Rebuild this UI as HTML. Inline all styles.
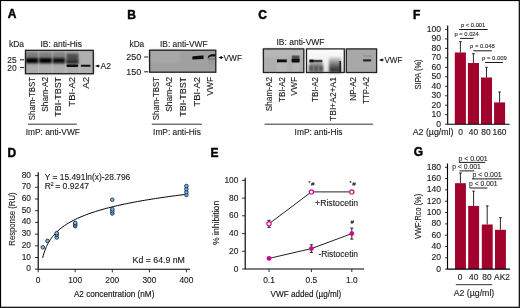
<!DOCTYPE html>
<html><head><meta charset="utf-8"><style>
html,body{margin:0;padding:0;background:#fff;}
body{width:520px;height:308px;overflow:hidden;}
svg{display:block;will-change:transform;font-family:"Liberation Sans",sans-serif;}
text{fill:#1a1a1a;stroke:#1a1a1a;stroke-width:0.12px;}
text.s{stroke-width:0.08px;}
text.L{font-weight:bold;fill:#000;stroke:#000;stroke-width:0.45px;}
</style></head><body>
<svg width="520" height="308" viewBox="0 0 520 308">
<defs>
<filter id="b1" x="-30%" y="-80%" width="160%" height="260%"><feGaussianBlur stdDeviation="0.9"/></filter>
<filter id="b2" x="-30%" y="-80%" width="160%" height="260%"><feGaussianBlur stdDeviation="1.5"/></filter>
<filter id="b07" x="-30%" y="-80%" width="160%" height="260%"><feGaussianBlur stdDeviation="0.7"/></filter>
<linearGradient id="gC2" x1="0" y1="0" x2="0" y2="1"><stop offset="0" stop-color="#fbfbfb"/><stop offset="0.5" stop-color="#f2f2f2"/><stop offset="1" stop-color="#dcdcdc"/></linearGradient>
<linearGradient id="gC2b" x1="0" y1="0" x2="0" y2="1"><stop offset="0" stop-color="#e0e0e0"/><stop offset="0.3" stop-color="#9a9a9a"/><stop offset="0.6" stop-color="#5a5a5a"/><stop offset="1" stop-color="#2a2a2a"/></linearGradient>
<filter id="b05" x="-30%" y="-80%" width="160%" height="260%"><feGaussianBlur stdDeviation="0.5"/></filter>
</defs>
<rect x="0" y="0" width="520" height="308" fill="#fff"/>
<text x="7.8" y="18.3" font-size="12" class="L">A</text>
<text x="8.9" y="47.3" font-size="8.4" textLength="15.1" lengthAdjust="spacingAndGlyphs">kDa</text>
<text x="40.5" y="47.3" font-size="8.4" textLength="41.5" lengthAdjust="spacingAndGlyphs">IB: anti-His</text>
<text x="7.3" y="62.6" font-size="8.4" textLength="9.4" lengthAdjust="spacingAndGlyphs">25</text>
<text x="7.3" y="70.6" font-size="8.4" textLength="9.4" lengthAdjust="spacingAndGlyphs">20</text>
<path d="M20 59.8H24M20 67.6H24" stroke="#1a1a1a" stroke-width="1" fill="none" />
<g>
<rect x="25.5" y="50.3" width="67.8" height="23.4" fill="#a2a2a2"/>
<rect x="25.5" y="64.5" width="67.8" height="9.2" fill="#acacac" filter="url(#b2)"/>
<rect x="79.5" y="52" width="13.8" height="21" fill="#b0b0b0" filter="url(#b2)"/>
<rect x="37.9" y="50.8" width="1.4" height="22.8" fill="#b8b8b8" filter="url(#b05)"/>
<rect x="51.5" y="50.8" width="1.4" height="22.8" fill="#b8b8b8" filter="url(#b05)"/>
<rect x="64.89999999999999" y="50.8" width="1.4" height="22.8" fill="#b8b8b8" filter="url(#b05)"/>
<rect x="78.89999999999999" y="50.8" width="1.4" height="22.8" fill="#b8b8b8" filter="url(#b05)"/>
<rect x="26" y="52.6" width="12.200000000000003" height="6" fill="#7a7a7a" filter="url(#b1)"/>
<rect x="26" y="58" width="12.200000000000003" height="5.2" fill="#000" filter="url(#b1)"/>
<rect x="39.2" y="52.6" width="12.5" height="6" fill="#7e7e7e" filter="url(#b1)"/>
<rect x="39.2" y="58" width="12.5" height="5.2" fill="#060606" filter="url(#b1)"/>
<rect x="52.8" y="52.6" width="12.200000000000003" height="6" fill="#808080" filter="url(#b1)"/>
<rect x="52.8" y="58" width="12.200000000000003" height="5.2" fill="#0a0a0a" filter="url(#b1)"/>
<rect x="66.4" y="53.6" width="12" height="10" fill="#4e4e4e" filter="url(#b1)"/>
<rect x="66.6" y="60.4" width="11.6" height="2.8" fill="#262626" filter="url(#b1)"/>
<rect x="66.6" y="64.4" width="11.6" height="2.7" fill="#080808" rx="0.8" filter="url(#b07)"/>
<rect x="80.8" y="64.7" width="9.8" height="2.1" fill="#0e0e0e" rx="0.8" filter="url(#b07)"/>
<rect x="25.5" y="50.3" width="67.8" height="23.4" fill="none" stroke="#1e1e1e" stroke-width="1.3"/>
</g>
<path d="M95.1 66L98.7 64.5L98.7 67.5Z" fill="#000"/>
<path d="M98.3 66H99.89999999999999" stroke="#111" stroke-width="0.9" fill="none" />
<text x="100.6" y="68.9" font-size="8.4" textLength="10.5" lengthAdjust="spacingAndGlyphs">A2</text>
<text transform="translate(35.3,120.2) rotate(-90)" font-size="8.4" textLength="43.3" lengthAdjust="spacingAndGlyphs">Sham-TBST</text>
<text transform="translate(48.3,111.7) rotate(-90)" font-size="8.4" textLength="34.8" lengthAdjust="spacingAndGlyphs">Sham-A2</text>
<text transform="translate(61,116.7) rotate(-90)" font-size="8.4" textLength="39.8" lengthAdjust="spacingAndGlyphs">TBI-TBST</text>
<text transform="translate(74.6,106.7) rotate(-90)" font-size="8.4" textLength="29.8" lengthAdjust="spacingAndGlyphs">TBI-A2</text>
<text transform="translate(88.7,88.7) rotate(-90)" font-size="8.4" textLength="11.8" lengthAdjust="spacingAndGlyphs">A2</text>
<path d="M28 124.2H76.8" stroke="#1a1a1a" stroke-width="0.9" fill="none" />
<text x="25.7" y="135.1" font-size="8.8" textLength="54.2" lengthAdjust="spacingAndGlyphs">ImP: anti-VWF</text>
<text x="127.3" y="18.5" font-size="12" class="L">B</text>
<text x="129.5" y="46.8" font-size="8.4" textLength="14.7" lengthAdjust="spacingAndGlyphs">kDa</text>
<text x="160" y="46.8" font-size="8.4" textLength="47.5" lengthAdjust="spacingAndGlyphs">IB: anti-VWF</text>
<text x="126.2" y="60" font-size="8.4" textLength="15" lengthAdjust="spacingAndGlyphs">250</text>
<text x="126.2" y="74.8" font-size="8.4" textLength="15" lengthAdjust="spacingAndGlyphs">150</text>
<path d="M144.2 57H148.2M144.2 71.8H148.2" stroke="#1a1a1a" stroke-width="1" fill="none" />
<rect x="149.6" y="50.2" width="66.2" height="22" fill="#a0a0a0"/>
<rect x="149.6" y="50.2" width="30" height="12" fill="#a8a8a8" filter="url(#b2)"/>
<path d="M192.4 56.4Q193 56 203.5 55.6V58.9L192.4 59.6Z" fill="#0a0a0a" filter="url(#b07)"/>
<path d="M207.5 57.2Q208.5 54.6 211.5 54.2H215.6V56.6H212Q209.5 56.6 208.6 58Z" fill="#111" filter="url(#b07)"/>
<rect x="207.8" y="58" width="7.2" height="2" fill="#7a7a7a" filter="url(#b07)"/>
<rect x="208" y="59.5" width="6.5" height="5" fill="#989898" filter="url(#b1)"/>
<rect x="149.6" y="50.2" width="66.2" height="22" fill="none" stroke="#1e1e1e" stroke-width="1.3"/>
<path d="M218.4 57.5L222.0 56.0L222.0 59.0Z" fill="#000"/>
<path d="M221.6 57.5H223.2" stroke="#111" stroke-width="0.9" fill="none" />
<text x="223.6" y="60.6" font-size="8.4" textLength="18.4" lengthAdjust="spacingAndGlyphs">VWF</text>
<text transform="translate(158.7,120.2) rotate(-90)" font-size="8.4" textLength="43.3" lengthAdjust="spacingAndGlyphs">Sham-TBST</text>
<text transform="translate(172.3,111.7) rotate(-90)" font-size="8.4" textLength="34.8" lengthAdjust="spacingAndGlyphs">Sham-A2</text>
<text transform="translate(186,116.7) rotate(-90)" font-size="8.4" textLength="39.8" lengthAdjust="spacingAndGlyphs">TBI-TBST</text>
<text transform="translate(199.6,106.7) rotate(-90)" font-size="8.4" textLength="29.8" lengthAdjust="spacingAndGlyphs">TBI-A2</text>
<text transform="translate(212.8,95.7) rotate(-90)" font-size="8.4" textLength="18.8" lengthAdjust="spacingAndGlyphs">VWF</text>
<path d="M151.8 124.2H201.8" stroke="#1a1a1a" stroke-width="0.9" fill="none" />
<text x="153.1" y="135.1" font-size="8.8" textLength="47.8" lengthAdjust="spacingAndGlyphs">ImP: anti-His</text>
<text x="258.2" y="18.6" font-size="12" class="L">C</text>
<text x="276.5" y="44.8" font-size="8.4" textLength="48" lengthAdjust="spacingAndGlyphs">IB: anti-VWF</text>
<rect x="263.4" y="48.9" width="40.4" height="23.6" fill="#aeaeae"/>
<rect x="263.4" y="48.9" width="40.4" height="8" fill="#b8b8b8" filter="url(#b2)"/>
<rect x="276.5" y="62.5" width="11" height="10" fill="#b8b8b8" filter="url(#b1)"/>
<rect x="292" y="62.5" width="8" height="10" fill="#b6b6b6" filter="url(#b1)"/>
<rect x="291.8" y="55.4" width="7.8" height="4.4" fill="#5a5a5a" filter="url(#b07)"/>
<rect x="292.2" y="56.8" width="7" height="1" fill="#444" filter="url(#b05)"/>
<path d="M277 59.3Q277 59.2 279 59.4H286.8V62.2H279Q277 62.5 277 62.3Z" fill="#0a0a0a" filter="url(#b07)"/>
<rect x="291.6" y="58.8" width="8" height="3.6" fill="#080808" rx="1" filter="url(#b05)"/>
<rect x="263.4" y="48.9" width="40.4" height="23.6" fill="none" stroke="#222" stroke-width="1.3"/>
<rect x="306.5" y="48.9" width="37.8" height="23.6" fill="url(#gC2)"/>
<rect x="309.3" y="61.5" width="13.4" height="10.5" fill="#9a9a9a" filter="url(#b1)"/>
<rect x="309.3" y="65" width="13.4" height="7" fill="#7a7a7a" filter="url(#b1)"/>
<rect x="309.8" y="66" width="2.6" height="5.5" fill="#505050" filter="url(#b1)"/>
<rect x="314.8" y="66" width="2.6" height="5.5" fill="#505050" filter="url(#b1)"/>
<rect x="319.8" y="66" width="2.6" height="5.5" fill="#505050" filter="url(#b1)"/>
<rect x="309.5" y="59.8" width="12.8" height="2.4" fill="#3c3c3c" filter="url(#b05)"/>
<rect x="309.5" y="59.6" width="4" height="2.6" fill="#111" filter="url(#b05)"/>
<rect x="329" y="57" width="12" height="15.5" fill="url(#gC2b)" filter="url(#b1)"/>
<rect x="339.4" y="61" width="1.6" height="11" fill="#222" filter="url(#b05)"/>
<rect x="306.5" y="48.9" width="37.8" height="23.6" fill="none" stroke="#222" stroke-width="1.3"/>
<rect x="346.3" y="48.9" width="30.3" height="23.6" fill="#a8a8a8"/>
<rect x="362.9" y="59.2" width="8.4" height="2.3" fill="#2a2a2a" rx="1" filter="url(#b05)"/>
<rect x="362.9" y="55.5" width="8.4" height="1" fill="#8a8a8a" filter="url(#b05)"/>
<rect x="346.3" y="48.9" width="30.3" height="23.6" fill="none" stroke="#222" stroke-width="1.3"/>
<path d="M379.0 59.9L382.59999999999997 58.4L382.59999999999997 61.4Z" fill="#000"/>
<path d="M382.2 59.9H383.8" stroke="#111" stroke-width="0.9" fill="none" />
<text x="384.4" y="63" font-size="8.4" textLength="18" lengthAdjust="spacingAndGlyphs">VWF</text>
<text transform="translate(271.6,111.2) rotate(-90)" font-size="8.4" textLength="34.2" lengthAdjust="spacingAndGlyphs">Sham-A2</text>
<text transform="translate(285.4,102.0) rotate(-90)" font-size="8.4" textLength="25.0" lengthAdjust="spacingAndGlyphs">TBI-A2</text>
<text transform="translate(297.4,95.7) rotate(-90)" font-size="8.4" textLength="18.8" lengthAdjust="spacingAndGlyphs">VWF</text>
<text transform="translate(318.2,102.0) rotate(-90)" font-size="8.4" textLength="25.0" lengthAdjust="spacingAndGlyphs">TBI-A2</text>
<text transform="translate(336.2,120.9) rotate(-90)" font-size="8.4" textLength="43.9" lengthAdjust="spacingAndGlyphs">TBI+A2+A1</text>
<text transform="translate(356.3,100.7) rotate(-90)" font-size="8.4" textLength="23.8" lengthAdjust="spacingAndGlyphs">NP-A2</text>
<text transform="translate(369.4,103.7) rotate(-90)" font-size="8.4" textLength="26.8" lengthAdjust="spacingAndGlyphs">TTP-A2</text>
<path d="M264.6 124.2H373" stroke="#1a1a1a" stroke-width="0.9" fill="none" />
<text x="294.6" y="135.2" font-size="8.8" textLength="47.9" lengthAdjust="spacingAndGlyphs">ImP: anti-His</text>
<text x="7.6" y="156.5" font-size="12" class="L">D</text>
<path d="M38.2 172.2V269.2H190" stroke="#000" stroke-width="1.15" fill="none" />
<text x="31" y="271.2" font-size="8.4" text-anchor="end">0</text>
<text x="31" y="259.5" font-size="8.4" text-anchor="end">10</text>
<text x="31" y="247.8" font-size="8.4" text-anchor="end">20</text>
<text x="31" y="236.1" font-size="8.4" text-anchor="end">30</text>
<text x="31" y="224.4" font-size="8.4" text-anchor="end">40</text>
<text x="31" y="212.7" font-size="8.4" text-anchor="end">50</text>
<text x="31" y="201.0" font-size="8.4" text-anchor="end">60</text>
<text x="31" y="189.3" font-size="8.4" text-anchor="end">70</text>
<text x="31" y="177.6" font-size="8.4" text-anchor="end">80</text>
<text x="38.2" y="282.9" font-size="8.4" text-anchor="middle">0</text>
<text x="75.2" y="282.9" font-size="8.4" text-anchor="middle">100</text>
<text x="112.3" y="282.9" font-size="8.4" text-anchor="middle">200</text>
<text x="149.4" y="282.9" font-size="8.4" text-anchor="middle">300</text>
<text x="186.4" y="282.9" font-size="8.4" text-anchor="middle">400</text>
<path d="M35 269.2H38.2M35 257.5H38.2M35 245.8H38.2M35 234.1H38.2M35 222.4H38.2M35 210.7H38.2M35 199.0H38.2M35 187.3H38.2M35 175.6H38.2M38.2 269.2V272.3M75.2 269.2V272.3M112.3 269.2V272.3M149.4 269.2V272.3M186.4 269.2V272.3" stroke="#1a1a1a" stroke-width="0.9" fill="none" />
<polyline points="42.65,257.85 43.20,255.72 43.76,253.81 44.31,252.08 44.87,250.50 45.42,249.05 45.98,247.71 46.54,246.46 47.09,245.29 47.65,244.19 48.20,243.16 48.76,242.18 49.32,241.25 49.87,240.36 50.43,239.52 50.98,238.71 51.54,237.94 52.09,237.20 52.65,236.49 53.21,235.81 55.43,233.30 57.65,231.10 59.87,229.14 62.10,227.37 64.32,225.76 66.54,224.28 68.77,222.91 70.99,221.64 73.21,220.45 75.44,219.33 77.66,218.28 79.88,217.29 82.10,216.35 84.33,215.45 86.55,214.60 88.77,213.79 91.00,213.01 93.22,212.26 95.44,211.54 97.67,210.85 99.89,210.18 102.11,209.54 104.33,208.92 106.56,208.32 108.78,207.74 111.00,207.18 113.23,206.64 115.45,206.11 117.67,205.59 119.90,205.09 122.12,204.61 124.34,204.13 126.56,203.67 128.79,203.22 131.01,202.78 133.23,202.35 135.46,201.93 137.68,201.52 139.90,201.12 142.13,200.73 144.35,200.35 146.57,199.97 148.79,199.60 151.02,199.24 153.24,198.89 155.46,198.54 157.69,198.20 159.91,197.87 162.13,197.54 164.36,197.22 166.58,196.90 168.80,196.59 171.02,196.28 173.25,195.98 175.47,195.69 177.69,195.40 179.92,195.11 182.14,194.83 184.36,194.55 186.40,194.30" fill="none" stroke="#000" stroke-width="1"/>
<circle cx="42.8" cy="247.3" r="1.8" fill="#74bcf8" stroke="#0c1626" stroke-width="0.8"/>
<circle cx="47.5" cy="240.9" r="1.8" fill="#74bcf8" stroke="#0c1626" stroke-width="0.8"/>
<circle cx="56.7" cy="237.5" r="1.8" fill="#74bcf8" stroke="#0c1626" stroke-width="0.8"/>
<circle cx="56.7" cy="234.8" r="1.8" fill="#74bcf8" stroke="#0c1626" stroke-width="0.8"/>
<circle cx="56.7" cy="233.2" r="1.8" fill="#74bcf8" stroke="#0c1626" stroke-width="0.8"/>
<circle cx="75.2" cy="226.1" r="1.8" fill="#74bcf8" stroke="#0c1626" stroke-width="0.8"/>
<circle cx="75.2" cy="224.5" r="1.8" fill="#74bcf8" stroke="#0c1626" stroke-width="0.8"/>
<circle cx="75.2" cy="222.9" r="1.8" fill="#74bcf8" stroke="#0c1626" stroke-width="0.8"/>
<circle cx="112.3" cy="213.5" r="1.8" fill="#74bcf8" stroke="#0c1626" stroke-width="0.8"/>
<circle cx="112.3" cy="211.3" r="1.8" fill="#74bcf8" stroke="#0c1626" stroke-width="0.8"/>
<circle cx="112.3" cy="209.2" r="1.8" fill="#74bcf8" stroke="#0c1626" stroke-width="0.8"/>
<circle cx="112.3" cy="199.8" r="1.8" fill="#74bcf8" stroke="#0c1626" stroke-width="0.8"/>
<circle cx="186.4" cy="194.9" r="1.8" fill="#74bcf8" stroke="#0c1626" stroke-width="0.8"/>
<circle cx="186.4" cy="192.1" r="1.8" fill="#74bcf8" stroke="#0c1626" stroke-width="0.8"/>
<circle cx="186.4" cy="189.1" r="1.8" fill="#74bcf8" stroke="#0c1626" stroke-width="0.8"/>
<circle cx="186.4" cy="186.0" r="1.8" fill="#74bcf8" stroke="#0c1626" stroke-width="0.8"/>
<text x="44.7" y="180" font-size="8.4" textLength="85.6" lengthAdjust="spacingAndGlyphs">Y = 15.491ln(x)-28.796</text>
<text x="44.7" y="189.2" font-size="8.4">R</text>
<text x="50.5" y="186.2" font-size="5.8">2</text>
<text x="55.2" y="189.2" font-size="8.4" textLength="33.8" lengthAdjust="spacingAndGlyphs">= 0.9247</text>
<text x="132.6" y="263.1" font-size="8.4" textLength="52.3" lengthAdjust="spacingAndGlyphs">Kd = 64.9 nM</text>
<text x="73.9" y="297.4" font-size="9.8" textLength="80.5" lengthAdjust="spacingAndGlyphs" style="stroke-width:0.2px">A2 concentration (nM)</text>
<text transform="translate(15,245.7) rotate(-90)" font-size="9.2" textLength="53.3" lengthAdjust="spacingAndGlyphs">Response (RU)</text>
<text x="210.4" y="156.9" font-size="12" class="L">E</text>
<path d="M245.2 177.8V269H364.2" stroke="#000" stroke-width="1.15" fill="none" />
<text x="238.4" y="271.5" font-size="8.4" text-anchor="end">0</text>
<text x="238.4" y="253.8" font-size="8.4" text-anchor="end">20</text>
<text x="238.4" y="236.1" font-size="8.4" text-anchor="end">40</text>
<text x="238.4" y="218.3" font-size="8.4" text-anchor="end">60</text>
<text x="238.4" y="200.6" font-size="8.4" text-anchor="end">80</text>
<text x="238.4" y="182.9" font-size="8.4" text-anchor="end">100</text>
<text x="269" y="282.9" font-size="8.4" text-anchor="middle">0.1</text>
<text x="311.4" y="282.9" font-size="8.4" text-anchor="middle">0.5</text>
<text x="351.8" y="282.9" font-size="8.4" text-anchor="middle">1.0</text>
<path d="M242 269.0H245.2M242 251.3H245.2M242 233.6H245.2M242 215.8H245.2M242 198.1H245.2M242 180.4H245.2M269.0 269V272M311.4 269V272M351.8 269V272" stroke="#1a1a1a" stroke-width="0.9" fill="none" />
<polyline points="269.0,223.8 311.4,191.9 351.8,191.9" fill="none" stroke="#222" stroke-width="1"/>
<path d="M269 220.3V227.4M267.4 220.3H270.6M267.4 227.4H270.6" stroke="#111" stroke-width="0.9" fill="none" />
<circle cx="269" cy="223.8" r="2.1" fill="#fff" stroke="#c80c8a" stroke-width="1.2"/>
<circle cx="311.4" cy="191.9" r="2.1" fill="#fff" stroke="#c80c8a" stroke-width="1.2"/>
<circle cx="351.8" cy="191.9" r="2.1" fill="#fff" stroke="#c80c8a" stroke-width="1.2"/>
<polyline points="269.0,258.4 311.4,248.6 351.8,233.6" fill="none" stroke="#222" stroke-width="1"/>
<path d="M311.4 244.8V252.4M309.79999999999995 244.8H313.0M309.79999999999995 252.4H313.0" stroke="#111" stroke-width="0.9" fill="none" />
<path d="M351.8 228.1V239.1M350.2 228.1H353.40000000000003M350.2 239.1H353.40000000000003" stroke="#111" stroke-width="0.9" fill="none" />
<circle cx="269" cy="258.4" r="2.4" fill="#c80c8a"/>
<circle cx="311.4" cy="248.6" r="2.4" fill="#c80c8a"/>
<circle cx="351.8" cy="233.6" r="2.4" fill="#c80c8a"/>
<text x="308.4" y="185.2" font-size="5.2">*</text>
<text x="311.0" y="186.2" font-size="6.2" font-style="italic">#</text>
<text x="349.6" y="185.2" font-size="5.2">*</text>
<text x="352.20000000000005" y="186.2" font-size="6.2" font-style="italic">#</text>
<text x="350.6" y="223.6" font-size="6.2" font-style="italic">#</text>
<text x="315.1" y="205.9" font-size="8.7" textLength="43.1" lengthAdjust="spacingAndGlyphs">+Ristocetin</text>
<text x="318.4" y="256.6" font-size="8.7" textLength="39.6" lengthAdjust="spacingAndGlyphs">-Ristocetin</text>
<text x="270.6" y="297.1" font-size="9.8" textLength="70.6" lengthAdjust="spacingAndGlyphs" style="stroke-width:0.2px">VWF added (µg/ml)</text>
<text transform="translate(218.6,245) rotate(-90)" font-size="9.6" textLength="44.2" lengthAdjust="spacingAndGlyphs">% inhibition</text>
<text x="412.9" y="18.7" font-size="12" class="L">F</text>
<rect x="454.8" y="52.5" width="11.1" height="71.7" fill="#a2032c"/>
<rect x="467.9" y="63.0" width="11.1" height="61.2" fill="#a2032c"/>
<rect x="481" y="77.5" width="11" height="46.7" fill="#a2032c"/>
<rect x="494.1" y="102.4" width="11.0" height="21.8" fill="#a2032c"/>
<path d="M460.4 52.5V41.7M459.1 41.7H461.7" stroke="#111" stroke-width="0.9" fill="none" />
<path d="M473.4 63.0V53.7M472.1 53.7H474.8" stroke="#111" stroke-width="0.9" fill="none" />
<path d="M486.5 77.5V67.3M485.2 67.3H487.8" stroke="#111" stroke-width="0.9" fill="none" />
<path d="M499.6 102.4V92.0M498.3 92.0H500.9" stroke="#111" stroke-width="0.9" fill="none" />
<path d="M447.7 25.6V124.2H509.6" stroke="#000" stroke-width="1.15" fill="none" />
<text x="441" y="126.7" font-size="8.6" text-anchor="end">0</text>
<text x="441" y="117.2" font-size="8.6" text-anchor="end">10</text>
<text x="441" y="107.7" font-size="8.6" text-anchor="end">20</text>
<text x="441" y="98.3" font-size="8.6" text-anchor="end">30</text>
<text x="441" y="88.8" font-size="8.6" text-anchor="end">40</text>
<text x="441" y="79.3" font-size="8.6" text-anchor="end">50</text>
<text x="441" y="69.8" font-size="8.6" text-anchor="end">60</text>
<text x="441" y="60.3" font-size="8.6" text-anchor="end">70</text>
<text x="441" y="50.9" font-size="8.6" text-anchor="end">80</text>
<text x="441" y="41.4" font-size="8.6" text-anchor="end">90</text>
<text x="441" y="31.9" font-size="8.6" text-anchor="end">100</text>
<path d="M445 124.2H447.7M445 114.7H447.7M445 105.2H447.7M445 95.8H447.7M445 86.3H447.7M445 76.8H447.7M445 67.3H447.7M445 57.8H447.7M445 48.4H447.7M445 38.9H447.7M445 29.4H447.7" stroke="#1a1a1a" stroke-width="0.9" fill="none" />
<text transform="translate(421.3,89.4) rotate(-90)" font-size="9.4" textLength="30" lengthAdjust="spacingAndGlyphs">SIPA (%)</text>
<text x="412.7" y="134.8" font-size="8.4" textLength="40.8" lengthAdjust="spacingAndGlyphs">A2 (µg/ml)</text>
<text x="460.5" y="134.8" font-size="8.4" text-anchor="middle">0</text>
<text x="473.4" y="134.8" font-size="8.4" text-anchor="middle">40</text>
<text x="485.9" y="134.8" font-size="8.4" text-anchor="middle">80</text>
<text x="499.5" y="134.8" font-size="8.4" text-anchor="middle">160</text>
<text x="461" y="27.2" font-size="6.2" textLength="24.3" lengthAdjust="spacingAndGlyphs" class="s">p &lt; 0.001</text>
<path d="M459.1 29.5H487.7" stroke="#1a1a1a" stroke-width="1" fill="none" />
<text x="454.5" y="36.3" font-size="6.2" textLength="24.3" lengthAdjust="spacingAndGlyphs" class="s">p = 0.024</text>
<path d="M460.1 38.4H473.6" stroke="#1a1a1a" stroke-width="1" fill="none" />
<text x="470.1" y="48.4" font-size="6.2" textLength="24.7" lengthAdjust="spacingAndGlyphs" class="s">p = 0.048</text>
<path d="M473.4 50.8H491.8" stroke="#1a1a1a" stroke-width="1" fill="none" />
<text x="482.1" y="60.2" font-size="6.2" textLength="24.7" lengthAdjust="spacingAndGlyphs" class="s">p = 0.009</text>
<path d="M485.1 62.5H502.9" stroke="#1a1a1a" stroke-width="1" fill="none" />
<text x="413.8" y="156.3" font-size="12" class="L">G</text>
<rect x="455" y="183.2" width="10.9" height="85.9" fill="#a2032c"/>
<rect x="468.2" y="205.9" width="10.9" height="63.2" fill="#a2032c"/>
<rect x="481.8" y="224.5" width="10.9" height="44.6" fill="#a2032c"/>
<rect x="495" y="229.8" width="10.9" height="39.3" fill="#a2032c"/>
<path d="M460.4 183.2V173.0M459.1 173.0H461.8" stroke="#111" stroke-width="0.9" fill="none" />
<path d="M473.6 205.9V191.1M472.3 191.1H474.9" stroke="#111" stroke-width="0.9" fill="none" />
<path d="M487.2 224.5V205.9M485.9 205.9H488.6" stroke="#111" stroke-width="0.9" fill="none" />
<path d="M500.4 229.8V217.7M499.1 217.7H501.8" stroke="#111" stroke-width="0.9" fill="none" />
<path d="M447.5 163.6V269.1H510" stroke="#000" stroke-width="1.15" fill="none" />
<text x="441" y="271.5" font-size="8.6" text-anchor="end">0</text>
<text x="441" y="260.2" font-size="8.6" text-anchor="end">20</text>
<text x="441" y="248.9" font-size="8.6" text-anchor="end">40</text>
<text x="441" y="237.6" font-size="8.6" text-anchor="end">60</text>
<text x="441" y="226.3" font-size="8.6" text-anchor="end">80</text>
<text x="441" y="214.9" font-size="8.6" text-anchor="end">100</text>
<text x="441" y="203.6" font-size="8.6" text-anchor="end">120</text>
<text x="441" y="192.3" font-size="8.6" text-anchor="end">140</text>
<text x="441" y="181.0" font-size="8.6" text-anchor="end">160</text>
<text x="441" y="169.7" font-size="8.6" text-anchor="end">180</text>
<path d="M445 269.1H447.5M445 257.8H447.5M445 246.5H447.5M445 235.2H447.5M445 223.9H447.5M445 212.5H447.5M445 201.2H447.5M445 189.9H447.5M445 178.6H447.5M445 167.3H447.5" stroke="#1a1a1a" stroke-width="0.9" fill="none" />
<text transform="translate(421.3,239) rotate(-90)" font-size="9.4" textLength="45.1" lengthAdjust="spacingAndGlyphs">VWF:Rco (%)</text>
<text x="460" y="279.6" font-size="8.4" text-anchor="middle">0</text>
<text x="473.7" y="279.6" font-size="8.4" text-anchor="middle">40</text>
<text x="487" y="279.6" font-size="8.4" text-anchor="middle">80</text>
<text x="502" y="279.6" font-size="8.4" text-anchor="middle">AK2</text>
<path d="M455.8 284.7H492.2" stroke="#1a1a1a" stroke-width="0.9" fill="none" />
<text x="453.7" y="295.8" font-size="8.4" textLength="40.6" lengthAdjust="spacingAndGlyphs">A2 (µg/ml)</text>
<text x="458.4" y="161.0" font-size="6.8" textLength="29.3" lengthAdjust="spacingAndGlyphs" class="s">p &lt; 0.001</text>
<path d="M458.9 162.4H485.2" stroke="#1a1a1a" stroke-width="1" fill="none" />
<text x="452.3" y="169.4" font-size="6.8" textLength="28.5" lengthAdjust="spacingAndGlyphs" class="s">p &lt; 0.001</text>
<path d="M459.6 170.9H474.2" stroke="#1a1a1a" stroke-width="1" fill="none" />
<text x="472.5" y="177.3" font-size="6.8" textLength="29.2" lengthAdjust="spacingAndGlyphs" class="s">p &lt; 0.001</text>
<path d="M472 178.9H502.4" stroke="#1a1a1a" stroke-width="1" fill="none" />
<text x="469.1" y="185.9" font-size="6.8" textLength="28.5" lengthAdjust="spacingAndGlyphs" class="s">p &lt; 0.001</text>
<path d="M469.8 188H487.4" stroke="#1a1a1a" stroke-width="1" fill="none" />
<rect x="0.5" y="0.5" width="518.8" height="306.8" fill="none" stroke="#000" stroke-width="1.2"/>
</svg>
</body></html>
